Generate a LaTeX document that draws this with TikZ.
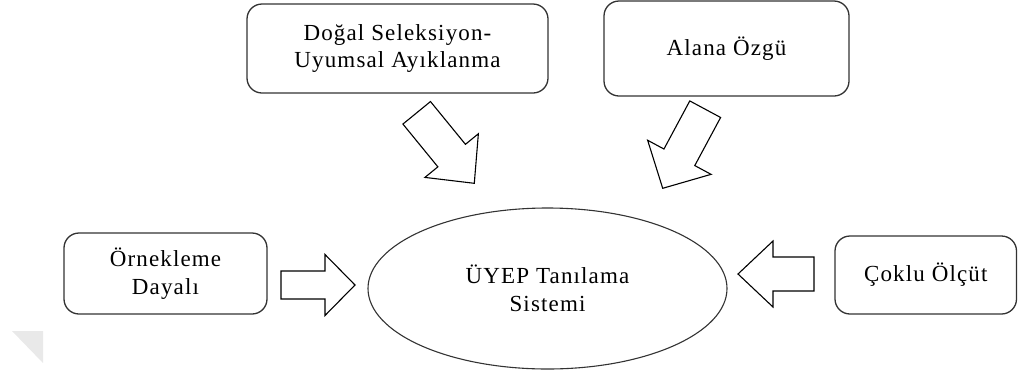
\documentclass[tikz,border=0pt]{standalone}
\usepackage{fontspec}
\setmainfont{Liberation Serif}[LetterSpace=5]
\usetikzlibrary{calc,shapes.geometric}

\definecolor{edgegray}{RGB}{51,51,51}
\definecolor{markgray}{RGB}{233,233,233}

% block arrow from tail centre #1 to tip #2; shaft half width #3, head half width #4, head length #5
\newcommand{\fatarrow}[5]{%
  \coordinate (hb) at ($(#2)!#5!(#1)$);
  \draw[blockarrow]
    ($(#1)!#3!90:(#2)$) -- ($(hb)!#3!90:(#2)$) -- ($(hb)!#4!90:(#2)$) -- (#2)
    -- ($(hb)!#4!-90:(#2)$) -- ($(hb)!#3!-90:(#2)$) -- ($(#1)!#3!-90:(#2)$) -- cycle;
}

\tikzset{
  box/.style={draw=edgegray, line width=1.3pt, rounded corners=15pt,
    rectangle, inner sep=0pt, align=center, font=\fontsize{23}{27.5}\selectfont},
  hub/.style={draw=edgegray, line width=1.1pt, ellipse, inner sep=0pt,
    align=center, font=\fontsize{23}{27.5}\selectfont},
  blockarrow/.style={draw=black, line width=1.1pt, fill=white, line join=miter},
}

\begin{document}
\begin{tikzpicture}[x=1pt,y=-1pt]
  \useasboundingbox (0,0) rectangle (1018,376);

  % faint corner mark
  \fill[markgray] (12,331) -- (43,331) -- (43,363) -- cycle;

  % boxes
  \node[box, minimum width=301pt, minimum height=89pt] (dogal) at (397.5,48.5)
    {Doğal Seleksiyon-\\Uyumsal Ayıklanma};
  \node[box, minimum width=245pt, minimum height=95pt] (alana) at (726.5,48.5)
    {Alana Özgü};
  \node[box, minimum width=203pt, minimum height=81pt] (ornek) at (165.5,273.5)
    {Örnekleme\\Dayalı};
  \node[box, minimum width=181.5pt, minimum height=78pt] (coklu) at (925.75,275)
    {Çoklu Ölçüt};

  % central ellipse
  \node[hub, minimum width=359pt, minimum height=161pt] (uyep) at (547.5,288.5)
    {ÜYEP Tanılama\\Sistemi};

  % arrow end points
  \coordinate (a1t) at (416.7,112.8);
  \coordinate (a1p) at (474.3,183.3);
  \coordinate (a2t) at (705.2,109.2);
  \coordinate (a2p) at (662.7,188.3);
  \coordinate (a3t) at (281,285);
  \coordinate (a3p) at (355,285);
  \coordinate (a4t) at (814,274);
  \coordinate (a4p) at (738,274);

  \fatarrow{a1t}{a1p}{17.8pt}{34.5pt}{35.8pt}
  \fatarrow{a2t}{a2p}{17.5pt}{36pt}{35.2pt}
  \fatarrow{a3t}{a3p}{14pt}{30.5pt}{30pt}
  \fatarrow{a4t}{a4p}{17pt}{33pt}{35pt}
\end{tikzpicture}
\end{document}
